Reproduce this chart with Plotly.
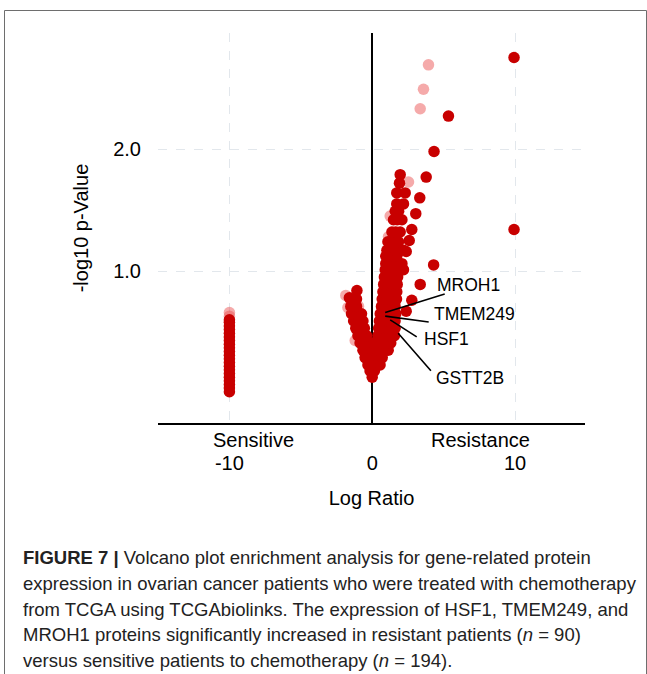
import plotly.graph_objects as go

# ---------------- data ----------------
# column of genes at log ratio -10 (sensitive-only)
col_y = [0.01, 0.04, 0.07, 0.10, 0.13, 0.16, 0.19, 0.22, 0.25, 0.28, 0.31, 0.34,
         0.37, 0.40, 0.43, 0.46, 0.49, 0.52, 0.55, 0.58, 0.60]
col_x = [-10] * len(col_y)

# main volcano body (dark points)
v_x = [0.0,
       -0.15, 0.15,
       -0.3, 0.0, 0.3, 0.55,
       -0.5, -0.2, 0.1, 0.4, 0.7,
       -0.65, -0.35, -0.05, 0.3, 0.6, 0.9, 1.12,
       -0.85, -0.55, -0.25, 0.05, 0.35, 0.65, 0.95, 1.3,
       -1.0, -0.7, -0.4, 0.4, 0.7, 1.0, 1.3, 1.55,
       -1.15, -0.85, -0.55, 0.45, 0.75, 1.05, 1.35, 1.6,
       -1.3, -0.95, -0.65, 0.5, 0.8, 1.1, 1.4, 1.6,
       -1.45, -1.05, -0.75, 0.56, 0.85, 1.15, 1.45, 1.65,
       -1.5, -1.1, 0.65, 0.95, 1.25, 1.6,
       -1.6, -1.1, 0.7, 1.0, 1.35, 1.7,
       -1.07, 0.75, 1.05, 1.4, 1.72,
       0.8, 1.1, 1.45, 1.75,
       0.85, 1.15, 1.5, 1.78,
       0.91, 1.2, 1.5, 1.8, 2.19,
       0.95, 1.26, 1.55, 1.85, 2.08,
       0.95, 1.25, 1.5, 1.72,
       1.03, 1.3, 1.6, 1.9, 2.19,
       1.1, 1.26, 1.55, 1.84,
       1.38, 1.65, 1.96,
       1.49, 1.75, 2.08,
       1.61, 1.85,
       1.72, 2.19,
       1.72, 2.31,
       1.91,
       1.96]
v_y = [0.13,
       0.18, 0.18,
       0.23, 0.23, 0.23, 0.23,
       0.29, 0.29, 0.29, 0.29, 0.29,
       0.35, 0.35, 0.35, 0.35, 0.35, 0.35, 0.35,
       0.41, 0.41, 0.41, 0.41, 0.41, 0.41, 0.41, 0.41,
       0.47, 0.47, 0.47, 0.47, 0.47, 0.47, 0.47, 0.47,
       0.53, 0.53, 0.53, 0.53, 0.53, 0.53, 0.53, 0.53,
       0.59, 0.59, 0.59, 0.59, 0.59, 0.59, 0.59, 0.59,
       0.65, 0.65, 0.65, 0.65, 0.65, 0.65, 0.65, 0.65,
       0.71, 0.71, 0.71, 0.71, 0.71, 0.71,
       0.78, 0.77, 0.77, 0.77, 0.77, 0.77,
       0.84, 0.83, 0.83, 0.83, 0.83,
       0.89, 0.89, 0.89, 0.89,
       0.95, 0.95, 0.95, 0.95,
       1.01, 1.01, 1.01, 1.01, 1.01,
       1.06, 1.06, 1.06, 1.06, 1.06,
       1.12, 1.12, 1.12, 1.12,
       1.17, 1.17, 1.17, 1.17, 1.17,
       1.24, 1.24, 1.24, 1.24,
       1.32, 1.32, 1.32,
       1.42, 1.42, 1.42,
       1.49, 1.49,
       1.55, 1.55,
       1.64, 1.64,
       1.72,
       1.79]

# isolated dark points
out_x = [2.38, 2.59, 2.77, 3.05, 3.33, 3.78, 4.33, 5.34, 9.93, 9.93, 4.30, 3.36, 2.77, 2.38]
out_y = [1.16, 1.25, 1.34, 1.47, 1.60, 1.77, 1.98, 2.27, 2.75, 1.34, 1.05, 0.89, 0.76, 0.67]

# faint (semi-transparent) points
light_x = [3.94, 3.59, 3.36, 2.54, 1.26, 1.14, -1.85, -1.7, -0.96, -1.19, 0.68, -10, -10]
light_y = [2.69, 2.49, 2.33, 1.73, 1.45, 1.28, 0.80, 0.70, 0.71, 0.43, 0.63, 0.63, 0.66]

# labelled genes
gene_names = ["MROH1", "TMEM249", "HSF1", "GSTT2B"]
gene_x = [0.91, 0.91, 1.26, 1.82]
gene_y = [0.66, 0.63, 0.60, 0.49]

x_ticks = [-10, 0, 10]
x_ticktext = ["-10", "0", "10"]
y_ticks = [1, 2]
y_ticktext = ["1.0", "2.0"]
group_labels = ["Sensitive", "Resistance"]
group_x = [-8.32, 7.55]

caption_lines = [
    "<b>FIGURE 7 |</b> Volcano plot enrichment analysis for gene-related protein",
    "expression in ovarian cancer patients who were treated with chemotherapy",
    "from TCGA using TCGAbiolinks. The expression of HSF1, TMEM249, and",
    "MROH1 proteins significantly increased in resistant patients (<i>n</i> = 90)",
    "versus sensitive patients to chemotherapy (<i>n</i> = 194).",
]

# ---------------- styling ----------------
DARK = "rgb(200,0,0)"
LIGHT = "rgba(235,85,85,0.5)"
FONT = "Liberation Sans, Arial, Helvetica, sans-serif"
MSIZE = 11.5

W, H = 647, 674
L, R, T, B = 158, 62, 33, 251
pw, ph = W - L - R, H - T - B


def px_to_paper_y(p):
    return (H - B - p) / ph


def px_to_paper_x(p):
    return (p - L) / pw


fig = go.Figure()
fig.add_trace(go.Scatter(x=light_x, y=light_y, mode="markers",
                         marker=dict(size=MSIZE, color=LIGHT, line=dict(width=0)),
                         hoverinfo="skip"))
fig.add_trace(go.Scatter(x=col_x, y=col_y, mode="markers",
                         marker=dict(size=MSIZE, color=DARK, line=dict(width=0))))
fig.add_trace(go.Scatter(x=v_x, y=v_y, mode="markers",
                         marker=dict(size=MSIZE, color=DARK, line=dict(width=0))))
fig.add_trace(go.Scatter(x=out_x, y=out_y, mode="markers",
                         marker=dict(size=MSIZE, color=DARK, line=dict(width=0))))

# gene label lines and texts
tails = {"MROH1": (61, -19), "TMEM249": (45, 6), "HSF1": (28, 18), "GSTT2B": (34, 39)}
text_off = {"MROH1": (50, 27), "TMEM249": (47, 2), "HSF1": (32, -19), "GSTT2B": (36, -45)}
for name, gx, gy in zip(gene_names, gene_x, gene_y):
    ax, ay = tails[name]
    fig.add_annotation(x=gx, y=gy, xref="x", yref="y", text="", showarrow=True,
                       arrowhead=0, arrowwidth=1.6, arrowcolor="black",
                       ax=ax, ay=ay, standoff=0, startstandoff=0)
    dx, dy = text_off[name]
    fig.add_annotation(x=gx, y=gy, xref="x", yref="y", text=name, showarrow=False,
                       xanchor="left", yanchor="middle", xshift=dx, yshift=dy,
                       font=dict(size=17.5, color="black", family=FONT))

# group labels under the axis
for lab, gx in zip(group_labels, group_x):
    fig.add_annotation(x=gx, y=px_to_paper_y(440), xref="x", yref="paper", text=lab,
                       showarrow=False, xanchor="center", yanchor="middle",
                       font=dict(size=20, color="black", family=FONT))

# caption
cap_y = [557, 583, 609, 635, 660]
for line, cy in zip(caption_lines, cap_y):
    fig.add_annotation(x=px_to_paper_x(21), y=px_to_paper_y(cy), xref="paper", yref="paper",
                       text=line, showarrow=False, xanchor="left", yanchor="middle",
                       align="left", font=dict(size=18.5, color="#222", family=FONT))

# outer frame
fig.add_shape(type="rect", xref="paper", yref="paper",
              x0=px_to_paper_x(4.5), x1=px_to_paper_x(646.5),
              y0=px_to_paper_y(700), y1=px_to_paper_y(10.5),
              line=dict(color="#6e6e6e", width=1), fillcolor="rgba(0,0,0,0)", layer="below")

fig.update_layout(
    width=W, height=H,
    margin=dict(l=L, r=R, t=T, b=B, pad=0),
    paper_bgcolor="white", plot_bgcolor="white",
    showlegend=False,
    font=dict(family=FONT, size=20, color="black"),
    xaxis=dict(range=[-15, 14.9], tickvals=x_ticks, ticktext=x_ticktext, ticks="",
               ticklabelstandoff=21,
               showgrid=True, gridcolor="rgb(226,231,236)", griddash="dash", gridwidth=1,
               zeroline=True, zerolinecolor="black", zerolinewidth=1.6,
               showline=True, linecolor="black", linewidth=1.8,
               title=dict(text="Log Ratio", standoff=18, font=dict(size=20)),
               tickfont=dict(size=20), fixedrange=True),
    yaxis=dict(range=[-0.246, 2.951], tickvals=y_ticks, ticktext=y_ticktext, ticks="",
               ticklabelstandoff=16,
               showgrid=True, gridcolor="rgb(226,231,236)", griddash="dash", gridwidth=1,
               zeroline=False, showline=False,
               title=dict(text="-log10 p-Value", standoff=19, font=dict(size=20)),
               tickfont=dict(size=20), fixedrange=True),
)

fig.write_html("out.html")
